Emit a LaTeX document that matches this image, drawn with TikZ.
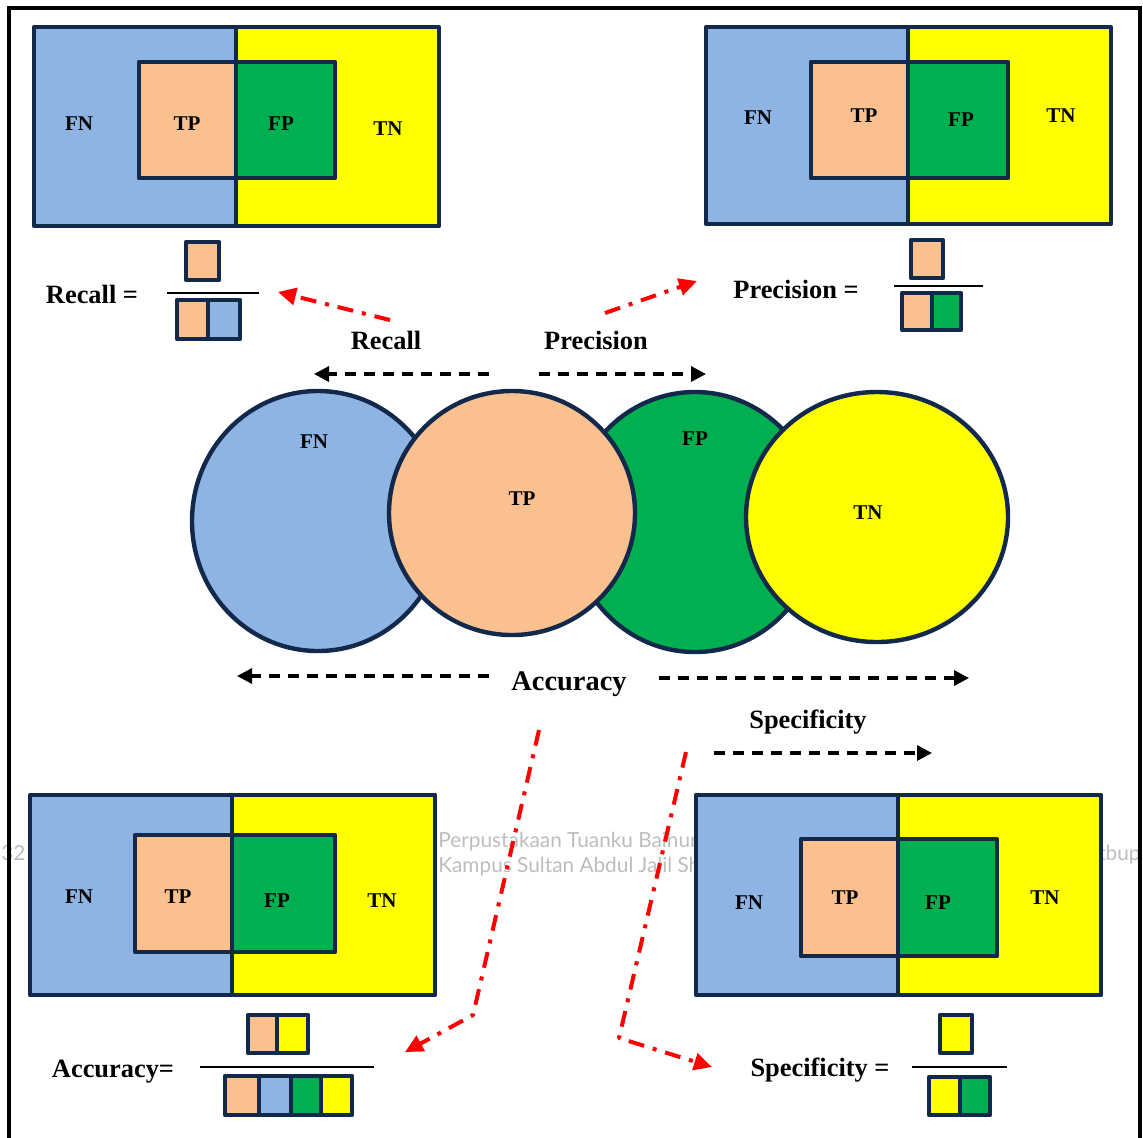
\documentclass[tikz,border=0pt]{standalone}
\usepackage{fontspec}
\setmainfont{Liberation Serif}
\newfontfamily\wmfont{Lato}
\usetikzlibrary{arrows.meta}

\definecolor{cFN}{HTML}{8EB4E3}
\definecolor{cTP}{HTML}{FAC090}
\definecolor{cFP}{HTML}{00B050}
\definecolor{cTN}{HTML}{FFFF00}
\definecolor{edgeNavy}{HTML}{13294B}
\definecolor{wmGray}{HTML}{BDBDBD}

\tikzset{
  cell/.style={draw=edgeNavy, line width=2.2pt, line join=round},
  fillFN/.style={cell, fill=cFN},
  fillTP/.style={cell, fill=cTP},
  fillFP/.style={cell, fill=cFP},
  fillTN/.style={cell, fill=cTN},
  lbl/.style={font=\bfseries\fontsize{10.5}{12}\selectfont, inner sep=0pt, anchor=base},
  biglbl/.style={font=\bfseries\fontsize{13.2}{15}\selectfont, inner sep=0pt, anchor=base},
  wmtext/.style={font=\wmfont\fontsize{10.4}{12}\selectfont, text=wmGray, inner sep=0pt},
  span/.style={draw=black, line width=1.6pt, dash pattern=on 5.5pt off 4pt,
    -{Triangle[length=7.5pt,width=7.5pt]}},
  pointer/.style={draw=red, line width=2pt, line join=round,
    dash pattern=on 8pt off 4.5pt on 2pt off 4.5pt,
    -{Triangle[length=9pt,width=8.5pt]}},
  bar/.style={draw=black, line width=1pt},
}

% confusion-matrix panel: #1,#2 outer top-left, #3 divider, #4,#5 outer right/bottom,
% #6..#9 inner block (left, top, right, bottom)
\newcommand\cmquad[9]{%
  \filldraw[fillFN] (#1,#2) rectangle (#3,#5);
  \filldraw[fillTN] (#3,#2) rectangle (#4,#5);
  \filldraw[fillTP] (#6,#7) rectangle (#3,#9);
  \filldraw[fillFP] (#3,#7) rectangle (#8,#9);
}

\begin{document}
\begin{tikzpicture}[x=0.5pt,y=-0.5pt]
\clip (0,0) rectangle (1143,1137);

% library watermark
\node[wmtext, anchor=base west] (wm1) at (438,847) {Perpustakaan Tuanku Bainun};
\node[wmtext, anchor=base west] (wm2) at (438,872) {Kampus Sultan Abdul Jalil Shah};
\node[wmtext, anchor=base west] (wm3) at (1,860) {32};
\node[wmtext, anchor=base east] (wm4) at (1141,860) {tbup};

% outer frame
\draw[line width=1.6pt] (9,1150) -- (9,8) -- (1140,8) -- (1140,1150);

% ---------- top-left panel: recall ----------
\cmquad{34}{27}{236}{439}{226}{139}{62}{335}{178}
\node[lbl] (q1fn) at (79,130) {FN};
\node[lbl] (q1tp) at (187,130) {TP};
\node[lbl] (q1fp) at (281,130) {FP};
\node[lbl] (q1tn) at (388,135) {TN};
\node[biglbl] (eqRec) at (92,303) {Recall =};
\filldraw[fillTP] (186,242) rectangle (219,280);
\draw[bar] (167,293) -- (259,293);
\filldraw[fillTP] (177,300) rectangle (208,339);
\filldraw[fillFN] (208,300) rectangle (240,339);

% ---------- top-right panel: precision ----------
\cmquad{706}{27}{908}{1111}{224}{811}{62}{1008}{178}
\node[lbl] (q2fn) at (758,124) {FN};
\node[lbl] (q2tp) at (864,122) {TP};
\node[lbl] (q2fp) at (961,126) {FP};
\node[lbl] (q2tn) at (1061,122) {TN};
\node[biglbl] (eqPre) at (796,298) {Precision =};
\filldraw[fillTP] (911,240) rectangle (943,278);
\draw[bar] (894,286) -- (983,286);
\filldraw[fillTP] (902,293) rectangle (932,330);
\filldraw[fillFP] (932,293) rectangle (961,330);

% ---------- bottom-left panel: accuracy ----------
\cmquad{30}{795}{232}{435}{995}{135}{835}{335}{952}
\node[lbl] (q3fn) at (79,903) {FN};
\node[lbl] (q3tp) at (178,903) {TP};
\node[lbl] (q3fp) at (277,907) {FP};
\node[lbl] (q3tn) at (382,907) {TN};
\node[biglbl] (eqAcc) at (113,1077) {Accuracy=};
\filldraw[fillTP] (248,1015) rectangle (277,1053);
\filldraw[fillTN] (277,1015) rectangle (308,1053);
\draw[bar] (200,1067) -- (374,1067);
\filldraw[fillTP] (225,1076) rectangle (259,1115);
\filldraw[fillFN] (259,1076) rectangle (291,1115);
\filldraw[fillFP] (291,1076) rectangle (321,1115);
\filldraw[fillTN] (321,1076) rectangle (352,1115);

% ---------- bottom-right panel: specificity ----------
\cmquad{696}{795}{898}{1101}{995}{801}{839}{997}{956}
\node[lbl] (q4fn) at (749,909) {FN};
\node[lbl] (q4tp) at (845,904) {TP};
\node[lbl] (q4fp) at (938,909) {FP};
\node[lbl] (q4tn) at (1045,904) {TN};
\node[biglbl] (eqSpe) at (820,1076) {Specificity =};
\filldraw[fillTN] (940,1015) rectangle (972,1053);
\draw[bar] (912,1067) -- (1007,1067);
\filldraw[fillTN] (929,1077) rectangle (960,1115);
\filldraw[fillFP] (960,1077) rectangle (990,1115);

% ---------- central overlapping sets ----------
\filldraw[fillFN] (318,521) ellipse [x radius=126, y radius=130];
\filldraw[fillFP] (695,522) ellipse [x radius=125, y radius=130];
\filldraw[fillTP] (512,513) ellipse [x radius=123, y radius=122];
\filldraw[fillTN] (877,517) ellipse [x radius=131, y radius=125];
\node[lbl] (efn) at (314,448) {FN};
\node[lbl] (etp) at (522,505) {TP};
\node[lbl] (efp) at (695,445) {FP};
\node[lbl] (etn) at (868,519) {TN};

% ---------- metric spans ----------
\node[biglbl] (tRec) at (386,349) {Recall};
\node[biglbl] (tPre) at (596,349) {Precision};
\node[biglbl, font=\bfseries\fontsize{14.2}{16}\selectfont] (tAcc) at (569,690) {Accuracy};
\node[biglbl] (tSpe) at (808,728) {Specificity};

\coordinate (recA) at (489,374);
\coordinate (recB) at (314,374);
\coordinate (preA) at (539,374);
\coordinate (preB) at (706,374);
\coordinate (accLA) at (489,676);
\coordinate (accLB) at (237,676);
\coordinate (accRA) at (659,678);
\coordinate (accRB) at (969,678);
\coordinate (speA) at (714,753);
\coordinate (speB) at (932,753);
\draw[span] (recA) -- (recB);
\draw[span] (preA) -- (preB);
\draw[span] (accLA) -- (accLB);
\draw[span] (accRA) -- (accRB);
\draw[span] (speA) -- (speB);

% ---------- pointers to the formulas ----------
\coordinate (rcS) at (390,320);
\coordinate (rcE) at (278,292);
\coordinate (prS) at (605,313);
\coordinate (prE) at (697,281);
\coordinate (acS) at (539,730);
\coordinate (acK) at (473,1015);
\coordinate (acE) at (405,1052);
\coordinate (spS) at (686,752);
\coordinate (spK) at (619,1038);
\coordinate (spE) at (712,1067);
\draw[pointer] (rcS) -- (rcE);
\draw[pointer] (prS) -- (prE);
\draw[pointer] (acS) -- (acK) -- (acE);
\draw[pointer] (spS) -- (spK) -- (spE);
\end{tikzpicture}
\end{document}
